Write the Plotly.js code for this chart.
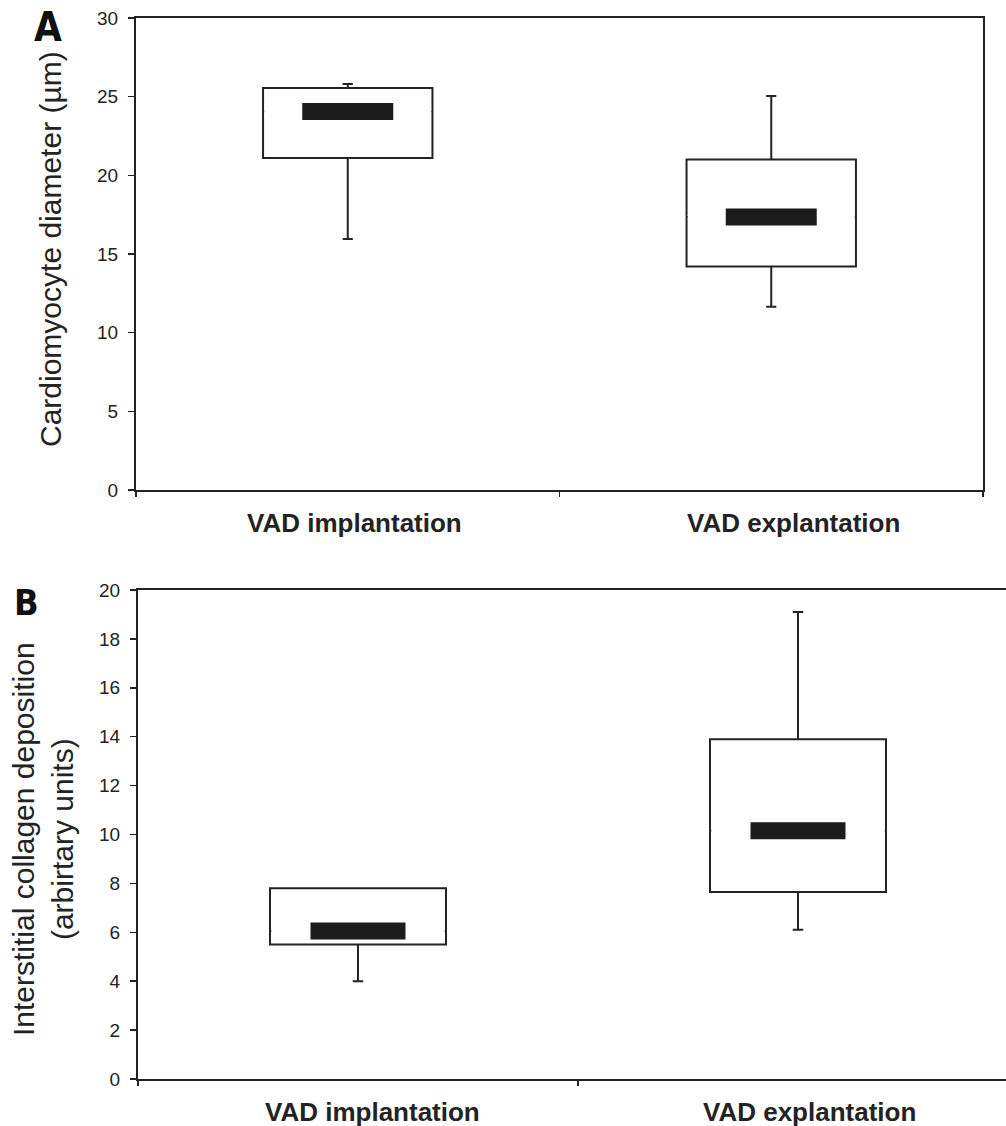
<!DOCTYPE html>
<html>
<head>
<meta charset="utf-8">
<script src="https://cdn.plot.ly/plotly-3.0.1.min.js"></script>
<style>
  html, body { margin: 0; padding: 0; overflow: hidden; background: #fff; }
  #chart { width: 1040px; height: 1126px; }
</style>
</head>
<body>
<div id="chart"></div>
<script>
// Groups compared in both panels
const categories = ['VAD implantation', 'VAD explantation'];

// Panel A: cardiomyocyte diameter (µm)
const diameterMin    = [15.95, 11.65];
const diameterQ1     = [21.1, 14.2];
const diameterMedian = [24.05, 17.35];
const diameterQ3     = [25.55, 21.0];
const diameterMax    = [25.8, 25.05];

// Panel B: interstitial collagen deposition (arbitrary units)
const collagenMin    = [4.0, 6.1];
const collagenQ1     = [5.5, 7.65];
const collagenMedian = [6.05, 10.15];
const collagenQ3     = [7.8, 13.9];
const collagenMax    = [7.8, 19.1];

const yTicksA = [0, 5, 10, 15, 20, 25, 30];
const yTicksB = [0, 2, 4, 6, 8, 10, 12, 14, 16, 18, 20];

const W = 1040, H = 1126;
const ink = '#232323';
const font = 'Liberation Sans, Arial, Helvetica, sans-serif';
const panelFont = 'Liberation Sans Narrow, DejaVu Sans Condensed, Arial Narrow, sans-serif';

function boxTrace(q1, med, q3, lo, hi, xa, ya) {
  return {
    type: 'box', x: categories, q1: q1, median: med, q3: q3,
    lowerfence: lo, upperfence: hi,
    xaxis: xa, yaxis: ya,
    width: 0.4, whiskerwidth: 0.06,
    fillcolor: '#ffffff',
    line: { color: ink, width: 2 },
    boxpoints: false, hoverinfo: 'y'
  };
}

// Median drawn as a short heavy bar; the thin full-width median rule of the
// box is masked in white first so only the heavy bar shows.
// (line-ew markers span 1.4 x marker.size)
function medianTraces(med, xa, ya, boxPx, barPx, thick) {
  return [{
    type: 'scatter', mode: 'markers', x: categories, y: med,
    xaxis: xa, yaxis: ya, hoverinfo: 'skip',
    marker: { symbol: 'line-ew', size: boxPx / 1.4, color: '#ffffff',
              line: { width: 4, color: '#ffffff' } }
  }, {
    type: 'scatter', mode: 'markers', x: categories, y: med,
    xaxis: xa, yaxis: ya, cliponaxis: false, hoverinfo: 'y',
    marker: { symbol: 'line-ew', size: barPx / 1.4, color: '#1c1c1c',
              line: { width: thick, color: '#1c1c1c' } }
  }];
}

const data = [boxTrace(diameterQ1, diameterMedian, diameterQ3, diameterMin, diameterMax, 'x', 'y')]
  .concat(medianTraces(diameterMedian, 'x', 'y', 167, 91, 17))
  .concat([boxTrace(collagenQ1, collagenMedian, collagenQ3, collagenMin, collagenMax, 'x2', 'y2')])
  .concat(medianTraces(collagenMedian, 'x2', 'y2', 173.5, 95, 17));

function xAxis(domain, anchor) {
  return {
    domain: domain, anchor: anchor, type: 'category', range: [-0.5, 1.5],
    showline: true, mirror: true, linecolor: ink, linewidth: 2,
    ticks: 'outside', tickson: 'boundaries', ticklen: 5, tickwidth: 1.5, tickcolor: ink,
    showticklabels: false, showgrid: false, zeroline: false, fixedrange: true
  };
}
function yAxis(domain, anchor, range, vals) {
  return {
    domain: domain, anchor: anchor, range: range,
    tickmode: 'array', tickvals: vals, ticktext: vals.map(String),
    showline: true, mirror: true, linecolor: ink, linewidth: 2,
    ticks: 'outside', ticklen: 6, tickwidth: 1.5, tickcolor: ink,
    ticklabelstandoff: 6,
    tickfont: { family: font, size: 19, color: ink },
    showgrid: false, zeroline: false, fixedrange: true
  };
}

const ann = [];
// Category labels below each panel
const labelFont = { family: font, size: 26, color: ink, weight: 'bold' };
[[categories[0], 'x', 'y', 7], [categories[1], 'x', 'y', 22],
 [categories[0], 'x2', 'y2', 14], [categories[1], 'x2', 'y2', 11]].forEach(function (d) {
  ann.push({ text: '<b>' + d[0] + '</b>', x: d[0], y: 0, xref: d[1], yref: d[2],
             xanchor: 'center', yanchor: 'middle', yshift: -33, xshift: d[3],
             showarrow: false, font: labelFont });
});
// Y-axis titles
ann.push({ text: 'Cardiomyocyte diameter (µm)', xref: 'paper', yref: 'paper',
           x: 50 / W, y: 1 - 249 / H, textangle: -90, showarrow: false,
           xanchor: 'center', yanchor: 'middle',
           font: { family: font, size: 30, color: ink } });
ann.push({ text: 'Interstitial collagen deposition<br>(arbirtary units)', xref: 'paper', yref: 'paper',
           x: 43 / W, y: 1 - 839 / H, textangle: -90, showarrow: false, align: 'center',
           xanchor: 'center', yanchor: 'middle',
           font: { family: font, size: 30, color: ink } });
// Panel letters
ann.push({ text: '<b>A</b>', xref: 'paper', yref: 'paper', x: 48 / W, y: 1 - 27 / H,
           xanchor: 'center', yanchor: 'middle', showarrow: false,
           font: { family: panelFont, size: 40, color: '#111' } });
ann.push({ text: '<b>B</b>', xref: 'paper', yref: 'paper', x: 26 / W, y: 1 - 602 / H,
           xanchor: 'center', yanchor: 'middle', showarrow: false,
           font: { family: panelFont, size: 36, color: '#111' } });

const layout = {
  width: W, height: H,
  margin: { l: 0, r: 0, t: 0, b: 0 },
  paper_bgcolor: '#ffffff', plot_bgcolor: '#ffffff',
  showlegend: false,
  font: { family: font, color: ink },
  xaxis: xAxis([136 / W, 983 / W], 'y'),
  yaxis: yAxis([1 - 490 / H, 1 - 18 / H], 'x', [0, 30], yTicksA),
  xaxis2: xAxis([138 / W, 1018 / W], 'y2'),
  yaxis2: yAxis([1 - 1079 / H, 1 - 590 / H], 'x2', [0, 20], yTicksB),
  annotations: ann
};

Plotly.newPlot('chart', data, layout, { displayModeBar: false, staticPlot: true });
</script>
</body>
</html>
